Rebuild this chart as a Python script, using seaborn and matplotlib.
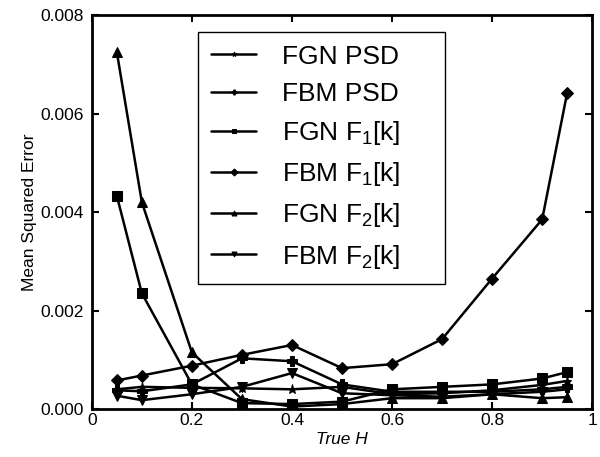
import matplotlib
matplotlib.use("Agg")
import matplotlib.pyplot as plt
import seaborn as sns
import pandas as pd

sns.set_style("ticks")
plt.rcParams['font.family'] = ['Liberation Sans', 'DejaVu Sans']
plt.rcParams['mathtext.fontset'] = 'custom'
plt.rcParams['mathtext.rm'] = 'Liberation Sans'
plt.rcParams['mathtext.it'] = 'Liberation Sans:italic'
plt.rcParams['text.color'] = 'black'
plt.rcParams['axes.labelcolor'] = 'black'
plt.rcParams['xtick.color'] = 'black'
plt.rcParams['ytick.color'] = 'black'

true_h = [0.05, 0.1, 0.2, 0.3, 0.4, 0.5, 0.6, 0.7, 0.8, 0.9, 0.95]
labels = ["FGN PSD", "FBM PSD", "FGN F$_1$[k]", "FBM F$_1$[k]", "FGN F$_2$[k]", "FBM F$_2$[k]"]
fgn_psd = [0.00040, 0.00045, 0.00043, 0.00042, 0.00040, 0.00045, 0.00030, 0.00032, 0.00038, 0.00049, 0.00057]
fbm_psd = [0.00038, 0.00036, 0.00050, 0.00103, 0.00097, 0.00050, 0.00035, 0.00035, 0.00035, 0.00040, 0.00045]
fgn_f1 = [0.00433, 0.00235, 0.00050, 0.00012, 0.00010, 0.00015, 0.00040, 0.00045, 0.00050, 0.00062, 0.00075]
fbm_f1 = [0.00058, 0.00068, 0.00088, 0.00110, 0.00130, 0.00083, 0.00091, 0.00142, 0.00265, 0.00385, 0.00642]
fgn_f2 = [0.00725, 0.00420, 0.00115, 0.00020, 0.00005, 0.00010, 0.00022, 0.00022, 0.00030, 0.00022, 0.00024]
fbm_f2 = [0.00027, 0.00018, 0.00030, 0.00045, 0.00073, 0.00032, 0.00028, 0.00025, 0.00030, 0.00035, 0.00040]
series = [fgn_psd, fbm_psd, fgn_f1, fbm_f1, fgn_f2, fbm_f2]
markers = ['*', 'P', 's', 'D', '^', 'v']

fig = plt.figure(figsize=(6.0, 4.57), dpi=100)
ax = fig.add_axes([0.153, 0.105, 0.834, 0.862])

for lab, vals, mk in zip(labels, series, markers):
    df = pd.DataFrame({"H": true_h, "MSE": vals})
    sns.lineplot(data=df, x="H", y="MSE", ax=ax, color='black', marker=mk,
                 markersize=6.5, markeredgecolor='black', markerfacecolor='black',
                 linewidth=1.8, label=lab)

ax.set_xlim(0, 1)
ax.set_ylim(0, 0.008)
ax.set_xticks([0, 0.2, 0.4, 0.6, 0.8, 1])
ax.set_xticklabels(['0', '0.2', '0.4', '0.6', '0.8', '1'])
ax.set_yticks([0, 0.002, 0.004, 0.006, 0.008])
ax.set_yticklabels(['0.000', '0.002', '0.004', '0.006', '0.008'])
ax.tick_params(direction='in', length=5, width=1.5, labelsize=12.5, top=True, right=True)
ax.tick_params(axis='x', pad=3)
ax.tick_params(axis='y', pad=6)
for s in ax.spines.values():
    s.set_linewidth(2)
    s.set_color('black')
ax.set_xlabel("True H", fontsize=12.5, style='italic', labelpad=3)
ax.set_ylabel("Mean Squared Error", fontsize=12.5, labelpad=2)

leg = ax.legend(loc='center', bbox_to_anchor=(0.212, 0.316, 0.494, 0.644),
                mode='expand',
                fontsize=19, frameon=True, fancybox=False, edgecolor='black',
                labelspacing=0.5, handlelength=1.7, handletextpad=1.0, borderpad=0.5,
                borderaxespad=0, markerscale=0.55)
leg.get_frame().set_linewidth(1.0)
leg.get_frame().set_alpha(1)

fig.savefig("out.png", dpi=100)
